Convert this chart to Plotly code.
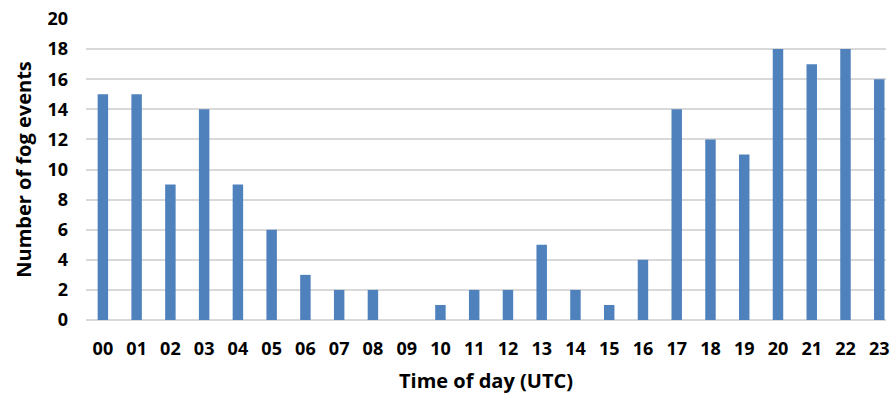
import plotly.graph_objects as go

hours = ["00","01","02","03","04","05","06","07","08","09","10","11",
         "12","13","14","15","16","17","18","19","20","21","22","23"]
fog_events = [15,15,9,14,9,6,3,2,2,0,1,2,2,5,2,1,4,14,12,11,18,17,18,16]
y_ticks = [0,2,4,6,8,10,12,14,16,18,20]

FONT = "Open Sans"

fig = go.Figure(go.Bar(
    x=list(range(len(hours))), y=fog_events,
    marker=dict(color="#4F81BD", line=dict(width=0)),
    width=0.31,
))

fig.update_layout(
    width=890, height=396,
    margin=dict(l=86, r=0, t=19, b=76),
    paper_bgcolor="white", plot_bgcolor="white",
    showlegend=False,
    font=dict(family=FONT, color="black"),
    xaxis=dict(
        range=[-0.5, 23.2],
        tickmode="array", tickvals=list(range(len(hours))), ticktext=hours,
        showgrid=False, zeroline=False, showline=False, ticks="",
        ticklabelstandoff=16, ticklabeloverflow="allow",
        tickfont=dict(family=FONT, size=18, color="black", weight="bold"),
        title=dict(text="Time of day (UTC)", standoff=14,
                   font=dict(family=FONT, size=20, color="black", weight="bold")),
    ),
    yaxis=dict(
        range=[0, 20], tickvals=y_ticks,
        showgrid=True, gridcolor="#D9D9D9", gridwidth=1.5,
        zeroline=True, zerolinecolor="#D9D9D9", zerolinewidth=1.5,
        showline=False, ticks="",
        ticklabelstandoff=17,
        tickfont=dict(family=FONT, size=18, color="black", weight="bold"),
        title=dict(text="Number of fog events", standoff=10,
                   font=dict(family=FONT, size=20, color="black", weight="bold")),
    ),
)

fig.write_html("out.html")
